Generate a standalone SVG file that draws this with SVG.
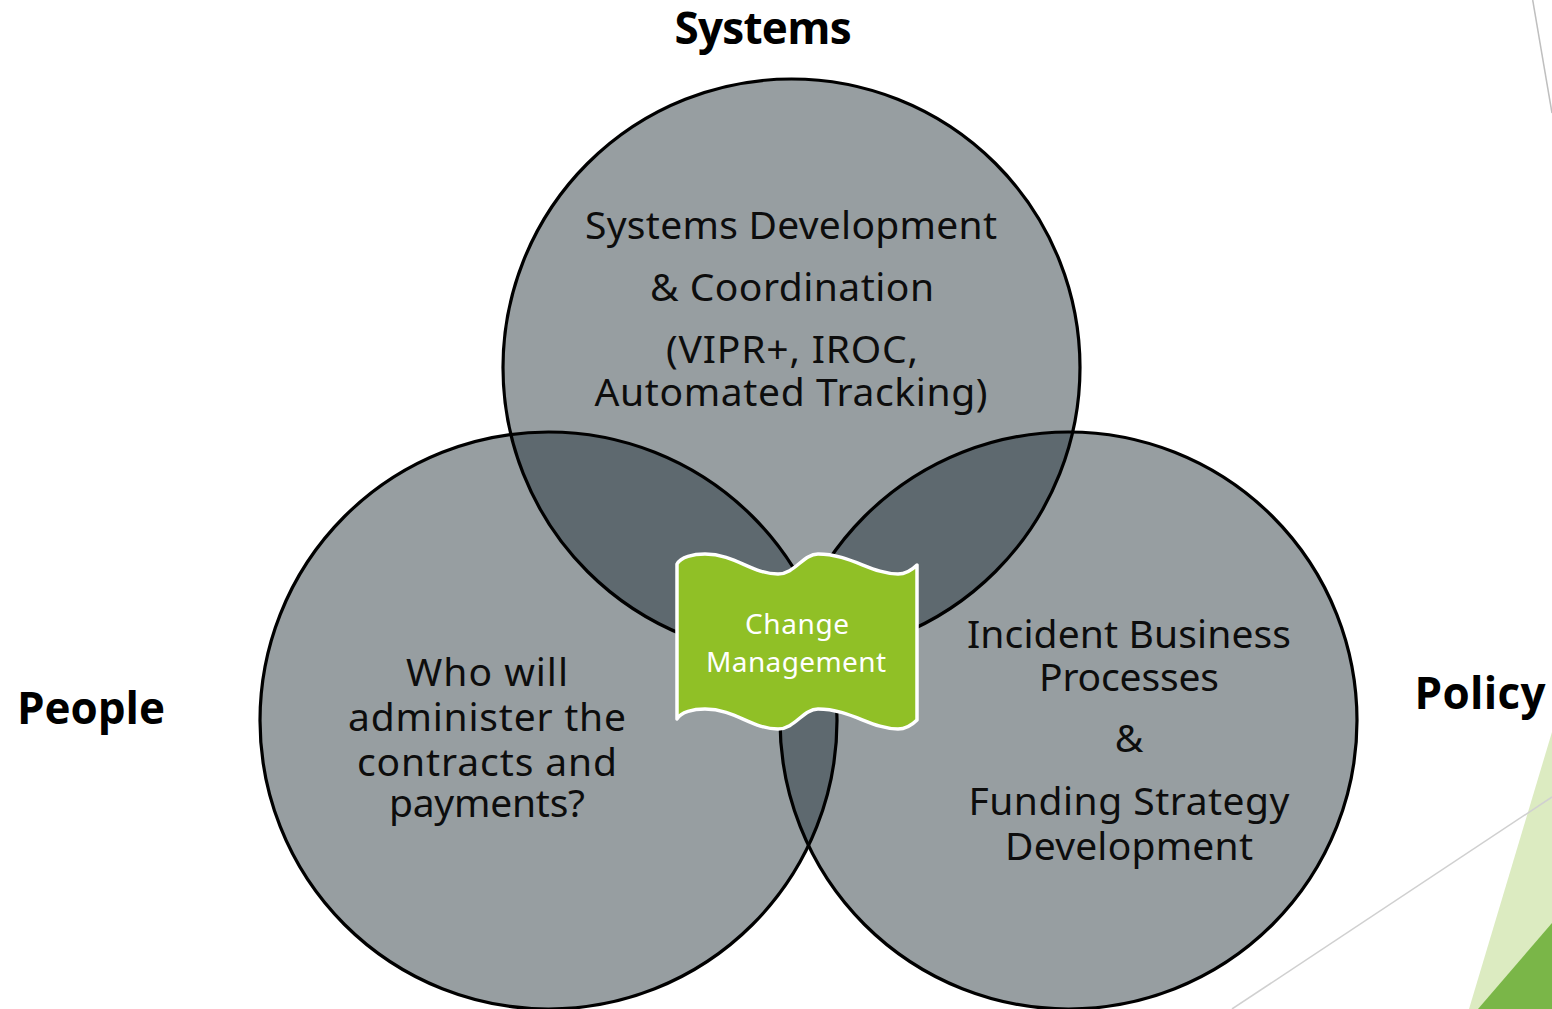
<svg xmlns="http://www.w3.org/2000/svg" width="1552" height="1009" viewBox="0 0 1552 1009">
  <style>
    .fill { fill: #979ea1; }
    .dark { fill: #5e696f; }
    .edge { fill: none; stroke: #000; stroke-width: 3.2; }
    .body { font-family: "Noto Sans", "Open Sans", "DejaVu Sans", sans-serif; font-size: 39px; fill: #0d0d0d; text-anchor: middle; }
    .label { font-family: "Open Sans", "Noto Sans", "DejaVu Sans", sans-serif; font-size: 44px; font-weight: bold; fill: #000; text-anchor: middle; }
    .banner-text { font-family: "Noto Sans", "Open Sans", "DejaVu Sans", sans-serif; font-size: 28px; fill: #fff; text-anchor: middle; }
  </style>
  <defs>
    <clipPath id="cT"><circle cx="791.5" cy="367.5" r="288.5"/></clipPath>
    <clipPath id="cL"><circle cx="548.5" cy="720.5" r="288.5"/></clipPath>
    <clipPath id="cR"><circle cx="1068.5" cy="720.5" r="288.5"/></clipPath>
  </defs>
  <rect width="1552" height="1009" fill="#fff"/>

  <g id="decor">
    <line x1="1532.7" y1="0" x2="1552" y2="113" stroke="#bfbfbf" stroke-width="1.5"/>
    <polygon points="1552,732 1469,1009 1552,1009" fill="#dcebc1"/>
    <polygon points="1478,1009 1552,923 1552,1009" fill="#7ab648"/>
    <line x1="1232" y1="1009" x2="1552" y2="797" stroke="#d0d0d0" stroke-width="1.5"/>
  </g>

  <g id="circle-fills">
    <circle class="fill" cx="791.5" cy="367.5" r="288.5"/>
    <circle class="fill" cx="548.5" cy="720.5" r="288.5"/>
    <circle class="fill" cx="1068.5" cy="720.5" r="288.5"/>
    <g clip-path="url(#cL)"><circle class="dark" cx="791.5" cy="367.5" r="288.5"/></g>
    <g clip-path="url(#cR)"><circle class="dark" cx="791.5" cy="367.5" r="288.5"/></g>
    <g clip-path="url(#cR)"><circle class="dark" cx="548.5" cy="720.5" r="288.5"/></g>
  </g>

  <g id="node-systems">
    <circle class="edge" cx="791.5" cy="367.5" r="288.5"/>
    <text class="body" x="791" y="239" textLength="412">Systems Development</text>
    <text class="body" x="792" y="301" textLength="284">&amp; Coordination</text>
    <text class="body" x="792" y="363" textLength="252">(VIPR+, IROC,</text>
    <text class="body" x="791" y="406" textLength="393">Automated Tracking)</text>
  </g>

  <g id="node-people">
    <circle class="edge" cx="548.5" cy="720.5" r="288.5"/>
    <text class="body" x="487" y="686" textLength="162">Who will</text>
    <text class="body" x="487" y="731" textLength="278">administer the</text>
    <text class="body" x="487" y="776" textLength="260">contracts and</text>
    <text class="body" x="487" y="817" textLength="196">payments?</text>
  </g>

  <g id="node-policy">
    <circle class="edge" cx="1068.5" cy="720.5" r="288.5"/>
    <text class="body" x="1129" y="648" textLength="324">Incident Business</text>
    <text class="body" x="1129" y="691" textLength="180">Processes</text>
    <text class="body" x="1129" y="752">&amp;</text>
    <text class="body" x="1129" y="815" textLength="321">Funding Strategy</text>
    <text class="body" x="1129" y="860" textLength="248">Development</text>
  </g>

  <g id="node-change">
    <path d="M677,564 C681,557 693,554 705,554 C735,554 752,574 778,574 C795,574 803,554 818,554 C850,554 872,574 898,574 C907,574 913,569 917,565 L917,720 C913,724 907,729 898,729 C872,729 850,709 818,709 C803,709 795,729 778,729 C752,729 735,709 705,709 C693,709 681,712 677,719 Z" fill="#90c026" stroke="#fff" stroke-width="3.5" stroke-linejoin="round"/>
    <text class="banner-text" x="797" y="634" textLength="104">Change</text>
    <text class="banner-text" x="796" y="672" textLength="180">Management</text>
  </g>

  <g id="labels">
    <text class="label" x="763" y="44" textLength="177">Systems</text>
    <text class="label" x="91" y="724" textLength="148">People</text>
    <text class="label" x="1480" y="709" textLength="131">Policy</text>
  </g>

  <g id="connectors"></g>
</svg>
